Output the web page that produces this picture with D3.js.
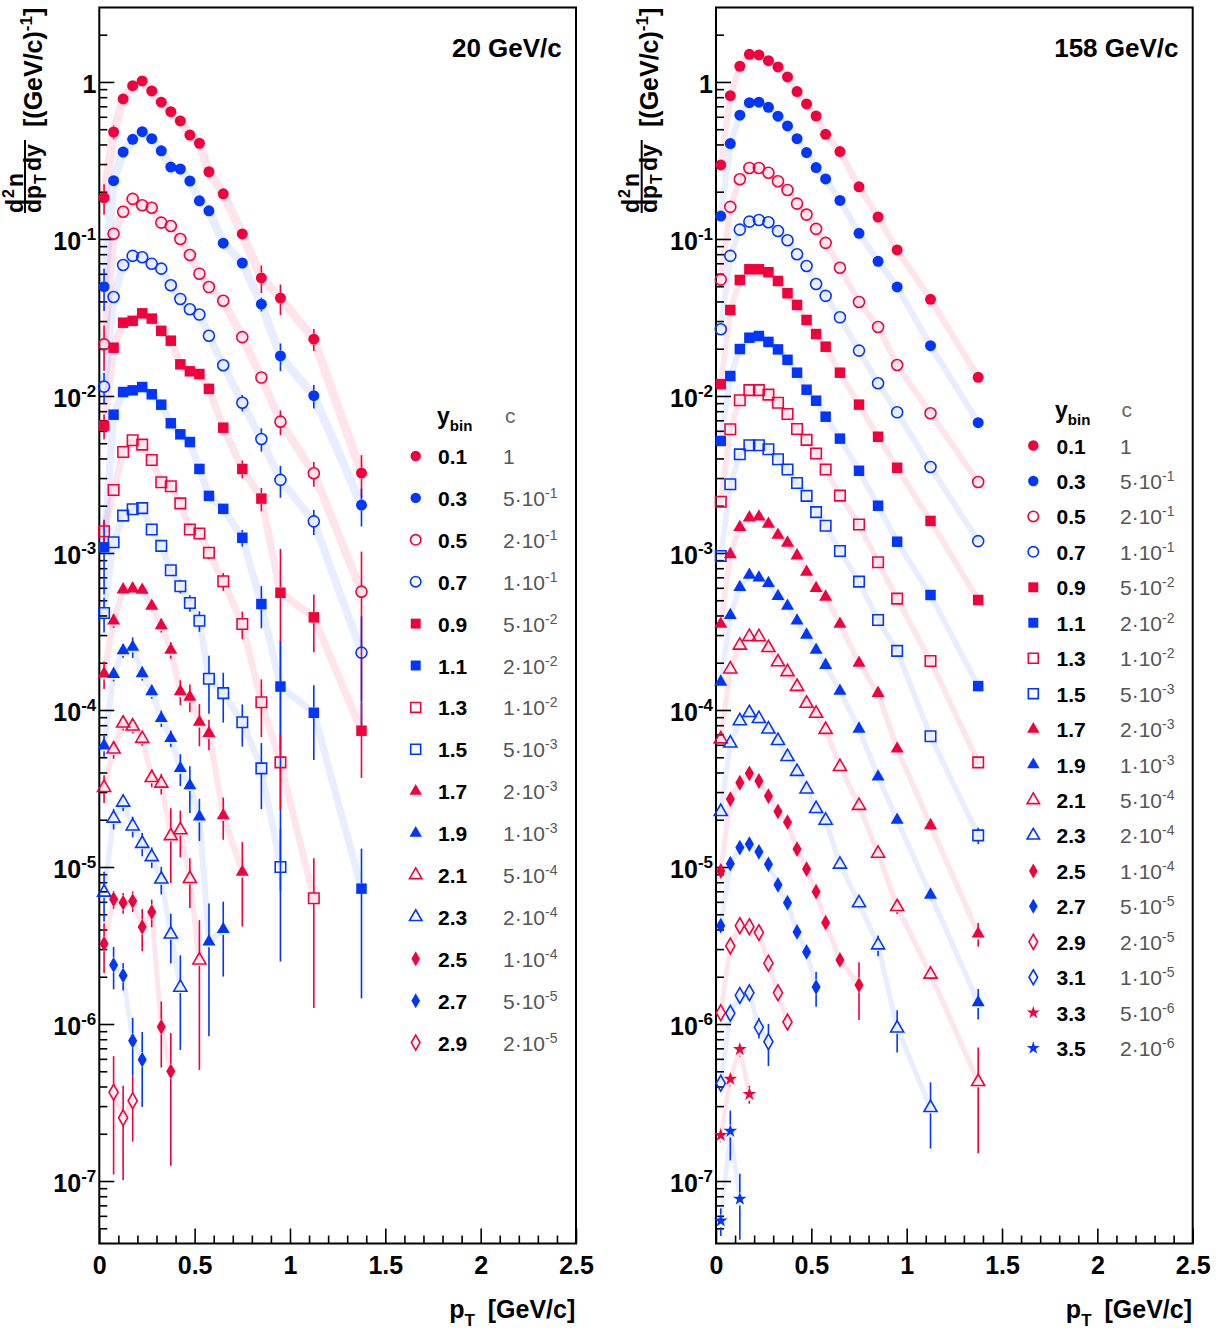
<!DOCTYPE html>
<html>
<head>
<meta charset="utf-8">
<script src="https://cdn.jsdelivr.net/npm/d3@7.9.0/dist/d3.min.js"></script>
<style>
html, body { margin: 0; padding: 0; background: #fff; }
svg { display: block; }
text { font-family: "Liberation Sans", Arial, Helvetica, sans-serif; }
</style>
</head>
<body>
<svg id="chart" width="1222" height="1336"></svg>
<script>
// pT bin centres shared by both energies
const ptBins = [0.025, 0.075, 0.125, 0.175, 0.225, 0.275, 0.325, 0.375, 0.425, 0.475, 0.525, 0.575, 0.65, 0.75, 0.85, 0.95, 1.125, 1.375];

const energyLabels = ['20 GeV/c', '158 GeV/c'];

// ---- 20 GeV/c ----
const rapidity20 = ['0.1', '0.3', '0.5', '0.7', '0.9', '1.1', '1.3', '1.5', '1.7', '1.9', '2.1', '2.3', '2.5', '2.7', '2.9'];
const cMant20 = [1, 5, 2, 1, 5, 2, 1, 5, 2, 1, 5, 2, 1, 5, 2];
const cExp20 = [0, -1, -1, -1, -2, -2, -2, -3, -3, -3, -4, -4, -4, -5, -5];
const spectra20 = [
	[0.183, 0.48, 0.78, 0.947, 1.015, 0.877, 0.743, 0.647, 0.565, 0.459, 0.407, 0.268, 0.194, 0.1076, 0.0565, 0.042, 0.023, 0.00323],
	[0.0497, 0.235, 0.358, 0.431, 0.482, 0.435, 0.364, 0.287, 0.279, 0.234, 0.175, 0.151, 0.094, 0.0703, 0.0384, 0.018, 0.01004, 0.00202],
	[0.0213, 0.108, 0.149, 0.18, 0.164, 0.158, 0.127, 0.121, 0.1, 0.0791, 0.0601, 0.0494, 0.0404, 0.0237, 0.0131, 0.00686, 0.00322, 0.000567],
	[0.01147, 0.0427, 0.0683, 0.078, 0.0765, 0.0696, 0.0647, 0.0507, 0.0415, 0.0357, 0.033, 0.0242, 0.0157, 0.00906, 0.00532, 0.00292, 0.00159, 0.000232],
	[0.00647, 0.0203, 0.0293, 0.0301, 0.0336, 0.0311, 0.026, 0.0225, 0.0159, 0.01436, 0.0138, 0.0111, 0.00628, 0.00343, 0.00222, 0.000558, 0.000389, 7.38e-5],
	[0.001087, 0.0076, 0.0106, 0.01086, 0.0114, 0.01025, 0.0088, 0.0067, 0.0057, 0.00509, 0.00343, 0.00231, 0.00191, 0.00125, 0.000473, 0.000141, 9.6e-5, 7.28e-6],
	[0.001374, 0.00252, 0.0044, 0.00522, 0.0049, 0.00391, 0.00282, 0.00266, 0.00207, 0.00141, 0.00133, 0.001004, 0.00066, 0.000353, 0.000112, 4.64e-5, 6.32e-6],
	[0.000415, 0.00117, 0.00173, 0.0019, 0.00193, 0.00141, 0.00111, 0.000776, 0.000614, 0.00048, 0.00037, 0.000158, 0.000128, 8.35e-5, 4.25e-5, 1.0e-5],
	[0.00017, 0.00037, 0.000584, 0.000593, 0.000581, 0.000459, 0.000346, 0.000241, 0.000131, 0.000121, 8.39e-5, 7.11e-5, 2.13e-5, 9.29e-6],
	[5.93e-5, 0.000169, 0.000239, 0.000252, 0.000171, 0.000131, 8.86e-5, 6.6e-5, 4.25e-5, 3.3e-5, 2.09e-5, 3.34e-6, 4.01e-6],
	[3.2e-5, 5.62e-5, 8.23e-5, 7.88e-5, 6.57e-5, 3.7e-5, 3.41e-5, 1.58e-5, 1.72e-5, 8.42e-6, 2.55e-6],
	[6.9e-6, 2.04e-5, 2.58e-5, 1.82e-5, 1.41e-5, 1.16e-5, 8.35e-6, 3.73e-6, 1.71e-6],
	[3.25e-6, 6.23e-6, 5.93e-6, 6.07e-6, 4.15e-6, 5.17e-6, 9.6e-7, 5.0e-7],
	[null, 2.38e-6, 2.04e-6, 7.83e-7, 5.93e-7],
	[null, 3.67e-7, 2.53e-7, 3.24e-7],
];
// relative errors
const relErr20 = [
	[0.22, 0.1, 0.03, 0.03, 0.03, 0.03, 0.03, 0.03, 0.03, 0.03, 0.03, 0.03, 0.06, 0.08, 0.2, 0.22, 0.16, 0.3],
	[0.3, 0.05, 0.03, 0.03, 0.03, 0.03, 0.03, 0.03, 0.03, 0.03, 0.03, 0.03, 0.05, 0.06, 0.1, 0.2, 0.17, 0.27],
	[0.32, 0.05, 0.03, 0.03, 0.03, 0.03, 0.03, 0.03, 0.03, 0.03, 0.03, 0.03, 0.05, 0.06, 0.08, 0.18, 0.18, 0.8],
	[0.22, 0.05, 0.03, 0.03, 0.03, 0.03, 0.03, 0.03, 0.03, 0.03, 0.03, 0.04, 0.06, 0.12, 0.17, 0.23, 0.18, 0.7],
	[0.18, 0.05, 0.03, 0.03, 0.03, 0.03, 0.03, 0.03, 0.03, 0.03, 0.04, 0.05, 0.06, 0.13, 0.17, 0.9, 0.4, 0.5],
	[0.5, 0.06, 0.03, 0.03, 0.03, 0.03, 0.03, 0.03, 0.04, 0.04, 0.05, 0.06, 0.07, 0.12, 0.3, 0.95, 0.5, 0.8],
	[0.15, 0.06, 0.04, 0.04, 0.04, 0.04, 0.05, 0.05, 0.06, 0.07, 0.08, 0.09, 0.13, 0.2, 0.4, 0.5, 0.8],
	[0.25, 0.08, 0.05, 0.05, 0.05, 0.06, 0.07, 0.08, 0.1, 0.12, 0.15, 0.4, 0.35, 0.3, 0.45, 0.75],
	[0.2, 0.1, 0.06, 0.06, 0.06, 0.08, 0.1, 0.12, 0.18, 0.2, 0.3, 0.22, 0.3, 0.55],
	[0.15, 0.1, 0.1, 0.15, 0.1, 0.1, 0.12, 0.12, 0.23, 0.33, 0.3, 0.75, 0.5],
	[0.2, 0.13, 0.1, 0.1, 0.1, 0.13, 0.15, 0.5, 0.33, 0.35, 0.8],
	[0.35, 0.15, 0.12, 0.15, 0.17, 0.15, 0.2, 0.35, 0.6],
	[0.35, 0.13, 0.15, 0.15, 0.3, 0.2, 0.45, 0.75],
	[null, 0.3, 0.2, 0.4, 0.5],
	[null, 0.7, 0.6, 0.45],
];

// ---- 158 GeV/c ----
const rapidity158 = ['0.1', '0.3', '0.5', '0.7', '0.9', '1.1', '1.3', '1.5', '1.7', '1.9', '2.1', '2.3', '2.5', '2.7', '2.9', '3.1', '3.3', '3.5'];
const cMant158 = [1, 5, 2, 1, 5, 2, 1, 5, 2, 1, 5, 2, 1, 5, 2, 1, 5, 2];
const cExp158 = [0, -1, -1, -1, -2, -2, -2, -3, -3, -3, -4, -4, -4, -5, -5, -5, -6, -6];
const spectra158 = [
	[0.296, 0.818, 1.259, 1.5, 1.486, 1.367, 1.246, 1.076, 0.868, 0.724, 0.607, 0.464, 0.36, 0.215, 0.138, 0.0851, 0.0413, 0.01315],
	[0.14, 0.405, 0.614, 0.738, 0.743, 0.69, 0.605, 0.525, 0.435, 0.355, 0.285, 0.241, 0.176, 0.1087, 0.0721, 0.0495, 0.0209, 0.00676],
	[0.0551, 0.16, 0.24, 0.283, 0.283, 0.264, 0.233, 0.205, 0.168, 0.143, 0.116, 0.0944, 0.0656, 0.0397, 0.0275, 0.01575, 0.00776, 0.00283],
	[0.0266, 0.078, 0.1147, 0.1289, 0.132, 0.1277, 0.1124, 0.0981, 0.0799, 0.0673, 0.0517, 0.0434, 0.0317, 0.01945, 0.01205, 0.00787, 0.00353, 0.00119],
	[0.0119, 0.0353, 0.0548, 0.0641, 0.0641, 0.0614, 0.054, 0.0451, 0.038, 0.0305, 0.0248, 0.0206, 0.01407, 0.00881, 0.0055, 0.00349, 0.0016, 0.000502],
	[0.00517, 0.0134, 0.0199, 0.0235, 0.0241, 0.0221, 0.0198, 0.017, 0.01407, 0.01096, 0.00933, 0.00738, 0.00535, 0.00334, 0.002, 0.00118, 0.00054, 0.000142],
	[0.00212, 0.00614, 0.0094, 0.0109, 0.0109, 0.0102, 0.00906, 0.00767, 0.00616, 0.00525, 0.0043, 0.0034, 0.00232, 0.00152, 0.000873, 0.000512, 0.000205, 4.64e-5],
	[0.000957, 0.00274, 0.00425, 0.00485, 0.00485, 0.00458, 0.00395, 0.0034, 0.00279, 0.00231, 0.00182, 0.00149, 0.00103, 0.000657, 0.000374, 0.000238, 6.8e-5, 1.59e-5],
	[0.000353, 0.00098, 0.00146, 0.00168, 0.0017, 0.00153, 0.0013, 0.00116, 0.000962, 0.000757, 0.000596, 0.000525, 0.000353, 0.000199, 0.000128, 5.67e-5, 1.84e-5, 3.76e-6],
	[0.000151, 0.000401, 0.000605, 0.000724, 0.000696, 0.000641, 0.00053, 0.00046, 0.00037, 0.000301, 0.000241, 0.000193, 0.000132, 7.58e-5, 3.76e-5, 1.99e-5, 6.64e-6, 1.37e-6],
	[6.53e-5, 0.000182, 0.000258, 0.000293, 0.000292, 0.000249, 0.000202, 0.000175, 0.000141, 0.00011, 9.5e-5, 7.5e-5, 4.35e-5, 2.46e-5, 1.22e-5, 5.58e-6, 2.07e-6, 4.29e-7],
	[2.25e-5, 6.14e-5, 8.51e-5, 9.6e-5, 8.8e-5, 7.54e-5, 6.37e-5, 5.04e-5, 4.05e-5, 3.13e-5, 2.35e-5, 1.98e-5, 1.04e-5, 5.9e-6, 3.18e-6, 9.4e-7, 2.93e-7],
	[9.43e-6, 2.71e-5, 3.44e-5, 3.95e-5, 3.53e-5, 2.83e-5, 2.26e-5, 1.93e-5, 1.3e-5, 9.7e-6, 6.96e-6, 4.42e-6, 2.56e-6, 1.77e-6],
	[4.23e-6, 1.05e-5, 1.33e-5, 1.4e-5, 1.25e-5, 1.04e-5, 7.7e-6, 5.92e-6, 3.86e-6, 2.88e-6, 1.72e-6],
	[1.18e-6, 3.14e-6, 4.23e-6, 4.17e-6, 3.82e-6, 2.44e-6, 1.58e-6, 1.03e-6],
	[4.19e-7, 1.17e-6, 1.52e-6, 1.58e-6, 9.53e-7, 7.71e-7],
	[1.96e-7, 4.46e-7, 6.9e-7, 3.57e-7],
	[5.58e-8, 2.08e-7, 7.68e-8],
];
const relErr158 = [
	[0.03, 0.03, 0.03, 0.03, 0.03, 0.03, 0.03, 0.03, 0.03, 0.03, 0.03, 0.03, 0.03, 0.03, 0.03, 0.03, 0.03, 0.04],
	[0.03, 0.03, 0.03, 0.03, 0.03, 0.03, 0.03, 0.03, 0.03, 0.03, 0.03, 0.03, 0.03, 0.03, 0.03, 0.03, 0.03, 0.04],
	[0.03, 0.03, 0.03, 0.03, 0.03, 0.03, 0.03, 0.03, 0.03, 0.03, 0.03, 0.03, 0.03, 0.03, 0.03, 0.03, 0.03, 0.05],
	[0.03, 0.03, 0.03, 0.03, 0.03, 0.03, 0.03, 0.03, 0.03, 0.03, 0.03, 0.03, 0.03, 0.03, 0.03, 0.03, 0.03, 0.05],
	[0.03, 0.03, 0.03, 0.03, 0.03, 0.03, 0.03, 0.03, 0.03, 0.03, 0.03, 0.03, 0.03, 0.03, 0.03, 0.03, 0.04, 0.05],
	[0.03, 0.03, 0.03, 0.03, 0.03, 0.03, 0.03, 0.03, 0.03, 0.03, 0.03, 0.03, 0.03, 0.03, 0.03, 0.03, 0.04, 0.06],
	[0.03, 0.03, 0.03, 0.03, 0.03, 0.03, 0.03, 0.03, 0.03, 0.03, 0.03, 0.03, 0.03, 0.03, 0.03, 0.04, 0.05, 0.08],
	[0.03, 0.03, 0.03, 0.03, 0.03, 0.03, 0.03, 0.03, 0.03, 0.03, 0.03, 0.03, 0.03, 0.03, 0.04, 0.04, 0.05, 0.12],
	[0.03, 0.03, 0.03, 0.03, 0.03, 0.03, 0.03, 0.03, 0.03, 0.03, 0.03, 0.03, 0.03, 0.04, 0.04, 0.05, 0.06, 0.17],
	[0.03, 0.03, 0.03, 0.03, 0.03, 0.03, 0.03, 0.03, 0.03, 0.03, 0.03, 0.03, 0.04, 0.04, 0.05, 0.06, 0.08, 0.22],
	[0.04, 0.03, 0.03, 0.03, 0.03, 0.03, 0.03, 0.03, 0.03, 0.03, 0.04, 0.04, 0.05, 0.05, 0.06, 0.1, 0.08, 0.65],
	[0.05, 0.04, 0.04, 0.04, 0.04, 0.04, 0.04, 0.04, 0.04, 0.05, 0.05, 0.05, 0.06, 0.08, 0.15, 0.3, 0.45],
	[0.05, 0.04, 0.04, 0.04, 0.04, 0.04, 0.05, 0.05, 0.05, 0.06, 0.06, 0.07, 0.08, 0.4],
	[0.05, 0.05, 0.05, 0.05, 0.05, 0.05, 0.05, 0.06, 0.06, 0.08, 0.25],
	[0.06, 0.06, 0.06, 0.06, 0.06, 0.06, 0.07, 0.1],
	[0.08, 0.08, 0.08, 0.08, 0.15, 0.3],
	[0.1, 0.1, 0.1, 0.13],
	[0.2, 0.35, 0.45],
];

const xTicksMajor = [0, 0.5, 1, 1.5, 2, 2.5];
const yDecades = [1, 1e-1, 1e-2, 1e-3, 1e-4, 1e-5, 1e-6, 1e-7];

// ---- layout ----
const red = '#f2003c';
const blue = '#0036ff';
const yTop = 7.5;
const yBottom = 1243.5;
const panelW = 476.7;
const yMin = 4.0e-8;
const yMax = 2.98;

const svg = d3.select('#chart');
const yScale = d3.scaleLog().domain([yMin, yMax]).range([yBottom, yTop]);

const shapeList = [
	{ type: d3.symbolCircle, size: 95, half: 5.5 },
	{ type: d3.symbolSquare, size: 110, half: 5.3 },
	{ type: d3.symbolTriangle, size: 74, half: 5.5 },
	{ type: d3.symbolDiamond, size: 72, half: 7.5 },
	{ type: d3.symbolStar, size: 58, half: 6.5 },
];
const markerStyle = (i) => ({
	shape: shapeList[Math.floor(i / 4)],
	filled: i % 4 < 2,
	color: i % 2 === 0 ? red : blue,
});

const panels = [
	{
		x0: 99.3, label: energyLabels[0], spectra: spectra20, errs: relErr20,
		ybins: rapidity20, cm: cMant20, ce: cExp20, band: 9, bandStep: 0.33,
		legend: { mx: 415.7, row0: 456, step: 41.9, tx: 438, cx: 503, hx: 437, hcx: 505, hy: 424 },
	},
	{
		x0: 716, label: energyLabels[1], spectra: spectra158, errs: relErr158,
		ybins: rapidity158, cm: cMant158, ce: cExp158, band: 6.5, bandStep: 0.12,
		legend: { mx: 1033.3, row0: 445.5, step: 35.45, tx: 1056.5, cx: 1120, hx: 1055, hcx: 1121.5, hy: 418 },
	},
];

function drawPanel(p) {
	const g = svg.append('g');
	const x = d3.scaleLinear().domain([0, 2.5]).range([p.x0, p.x0 + panelW]);
	const ox = p.x0 - 99.3;

	// frame
	g.append('rect')
		.attr('x', p.x0).attr('y', yTop)
		.attr('width', panelW).attr('height', yBottom - yTop)
		.attr('fill', 'none').attr('stroke', '#000').attr('stroke-width', 2);

	// x axis: major and minor ticks
	const minorX = d3.range(0, 2.501, 0.1).filter((t) => Math.abs(t * 2 - Math.round(t * 2)) > 1e-6);
	const gx = g.append('g').attr('transform', `translate(0,${yBottom})`)
		.call(d3.axisBottom(x).tickValues(xTicksMajor).tickSize(-15).tickSizeOuter(0)
			.tickPadding(13).tickFormat((d) => String(d)));
	gx.append('g').call(d3.axisBottom(x).tickValues(minorX).tickSize(-8).tickSizeOuter(0).tickFormat(''));
	gx.selectAll('.domain').remove();
	gx.attr('font-family', '"Liberation Sans", Arial, sans-serif').attr('font-size', 25).attr('font-weight', 'bold');
	gx.selectAll('line').attr('stroke-width', 1.6);

	// y axis: decades and log minor ticks
	const minorY = [];
	for (let k = -8; k <= 0; k++) {
		for (let m = 2; m <= 9; m++) {
			const v = m * Math.pow(10, k);
			if (v > yMin && v < yMax) minorY.push(v);
		}
	}
	const gy = g.append('g').attr('transform', `translate(${p.x0},0)`)
		.call(d3.axisLeft(yScale).tickValues(yDecades).tickSize(-15).tickSizeOuter(0).tickFormat(''));
	gy.append('g').call(d3.axisLeft(yScale).tickValues(minorY).tickSize(-8).tickSizeOuter(0).tickFormat(''));
	gy.selectAll('.domain').remove();
	gy.selectAll('line').attr('stroke-width', 1.6);

	yDecades.forEach((v) => {
		const k = Math.round(Math.log10(v));
		const t = g.append('text')
			.attr('x', p.x0 - 3).attr('y', yScale(v) + 11)
			.attr('text-anchor', 'end').attr('font-size', 25).attr('font-weight', 'bold');
		if (k === 0) {
			t.text('1');
		} else {
			t.append('tspan').text('10');
			t.append('tspan').attr('dy', -10).attr('font-size', 17).text(String(k));
		}
	});

	// bands under the points
	p.spectra.forEach((vals, i) => {
		const st = markerStyle(i);
		const pts = vals.map((v, j) => ({ pt: ptBins[j], v })).filter((d) => d.v != null);
		g.append('path')
			.datum(pts)
			.attr('d', d3.line().x((d) => x(d.pt)).y((d) => yScale(d.v)))
			.attr('fill', 'none')
			.attr('stroke', st.color)
			.attr('stroke-opacity', st.color === red ? 0.1 : 0.09)
			.attr('stroke-width', p.band - p.bandStep * i)
			.attr('stroke-linejoin', 'round')
			.attr('stroke-linecap', 'round');
	});

	// error bars and markers
	p.spectra.forEach((vals, i) => {
		const st = markerStyle(i);
		const pts = vals
			.map((v, j) => ({ pt: ptBins[j], v, e: p.errs[i][j] }))
			.filter((d) => d.v != null);
		const eg = g.append('g').attr('stroke', st.color).attr('stroke-width', 1.6);
		pts.forEach((d) => {
			const cx = x(d.pt);
			const cy = yScale(d.v);
			const hi = yScale(d.v * (1 + d.e));
			const lo = yScale(Math.max(d.v * (1 - d.e), yMin));
			const h = st.shape.half;
			if (cy - h > hi) eg.append('line').attr('x1', cx).attr('x2', cx).attr('y1', hi).attr('y2', cy - h);
			if (lo > cy + h) eg.append('line').attr('x1', cx).attr('x2', cx).attr('y1', cy + h).attr('y2', lo);
		});
		g.append('g').selectAll('path')
			.data(pts)
			.join('path')
			.attr('transform', (d) => `translate(${x(d.pt)},${yScale(d.v)})`)
			.attr('d', d3.symbol().type(st.shape.type).size(st.shape.size))
			.attr('fill', st.filled ? st.color : 'none')
			.attr('stroke', st.filled ? 'none' : st.color)
			.attr('stroke-width', 1.6);
	});

	// energy label
	g.append('text')
		.attr('x', p.x0 + 462.5).attr('y', 57)
		.attr('text-anchor', 'end').attr('font-size', 26).attr('font-weight', 'bold')
		.text(p.label);

	// x title
	const xt = g.append('text')
		.attr('x', p.x0 + 476).attr('y', 1318)
		.attr('text-anchor', 'end').attr('font-size', 25).attr('font-weight', 'bold');
	xt.append('tspan').text('p');
	xt.append('tspan').attr('dy', 8).attr('font-size', 17).text('T');
	xt.append('tspan').attr('dy', -8).attr('dx', 6).text(' [GeV/c]');

	// y title (rotated)
	const tg = g.append('g')
		.attr('transform', `translate(${ox + 1.5},213) rotate(-90)`)
		.attr('font-weight', 'bold');
	const num = tg.append('text').attr('x', 0).attr('y', 21).attr('font-size', 23);
	num.append('tspan').text('d');
	num.append('tspan').attr('dx', 1).attr('dy', -9).attr('font-size', 16).text('2');
	num.append('tspan').attr('dx', 2).attr('dy', 9).text('n');
	tg.append('line')
		.attr('x1', 0).attr('x2', 73).attr('y1', 23.5).attr('y2', 23.5)
		.attr('stroke', '#000').attr('stroke-width', 2);
	const den = tg.append('text').attr('x', 0).attr('y', 39).attr('font-size', 23);
	den.append('tspan').text('dp');
	den.append('tspan').attr('dx', 1).attr('dy', 5).attr('font-size', 16).text('T');
	den.append('tspan').attr('dx', 3).attr('dy', -5).text('dy');
	const unit = tg.append('text').attr('x', 86).attr('y', 40).attr('font-size', 25);
	unit.append('tspan').text('[(GeV/c)');
	unit.append('tspan').attr('dy', -10).attr('font-size', 17).text('-1');
	unit.append('tspan').attr('dy', 10).text(']');

	// legend
	const L = p.legend;
	const hdr = g.append('text')
		.attr('x', L.hx).attr('y', L.hy)
		.attr('font-family', '"Liberation Mono", "Courier New", monospace')
		.attr('font-weight', 'bold').attr('font-size', 23);
	hdr.append('tspan').text('y');
	hdr.append('tspan').attr('dy', 7).attr('font-size', 15).text('bin');
	g.append('text')
		.attr('x', L.hcx).attr('y', L.hy - 1)
		.attr('font-family', '"Liberation Mono", "Courier New", monospace')
		.attr('font-size', 21).attr('fill', '#666')
		.text('c');

	p.ybins.forEach((yb, i) => {
		const st = markerStyle(i);
		const cy = L.row0 + L.step * i;
		g.append('path')
			.attr('transform', `translate(${L.mx},${cy})`)
			.attr('d', d3.symbol().type(st.shape.type).size(st.shape.size * 0.9))
			.attr('fill', st.filled ? st.color : 'none')
			.attr('stroke', st.filled ? 'none' : st.color)
			.attr('stroke-width', 1.6);
		g.append('text')
			.attr('x', L.tx).attr('y', cy + 8)
			.attr('font-family', '"Liberation Mono", "Courier New", monospace')
			.attr('font-weight', 'bold').attr('font-size', 21)
			.text(yb);
		const ct = g.append('text')
			.attr('x', L.cx).attr('y', cy + 8)
			.attr('font-size', 21).attr('fill', '#555');
		if (p.ce[i] === 0) {
			ct.text(String(p.cm[i]));
		} else {
			ct.append('tspan').text(`${p.cm[i]}\u00b710`);
			ct.append('tspan').attr('dy', -8).attr('font-size', 14).text(String(p.ce[i]));
		}
	});
}

panels.forEach(drawPanel);
</script>
</body>
</html>
